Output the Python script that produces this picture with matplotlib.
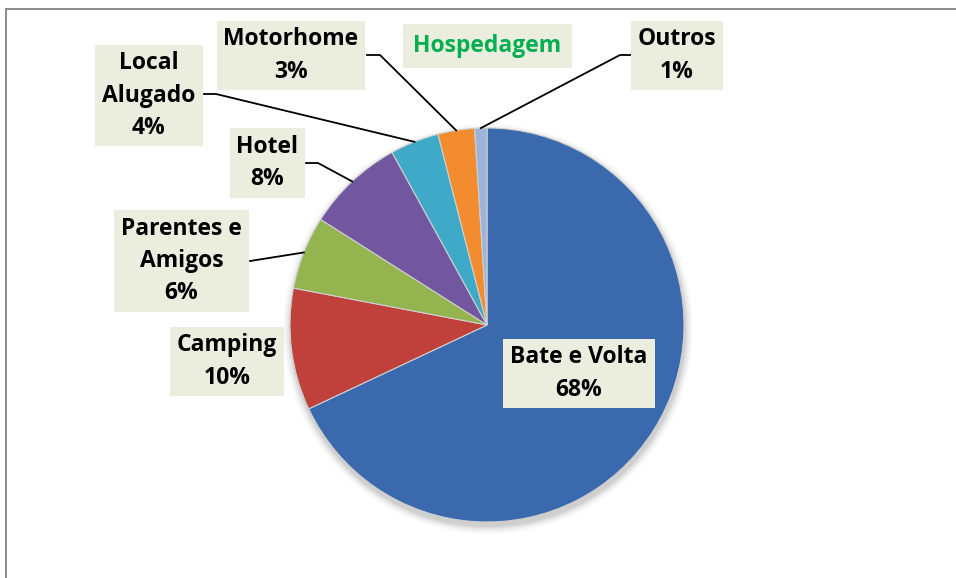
import matplotlib
matplotlib.use('Agg')
import matplotlib.pyplot as plt
import numpy as np
from matplotlib.patches import Rectangle, Circle

# data
categories = ['Bate e Volta', 'Camping', 'Parentes e\nAmigos', 'Hotel',
              'Local\nAlugado', 'Motorhome', 'Outros']
shares = [68, 10, 6, 8, 4, 3, 1]
colors = ['#3A69AE', '#C0403C', '#93B44E', '#7356A0', '#3FAAC8', '#F28C2E', '#9CB4DA']
title = 'Hospedagem'

W, H = 956, 578
fig = plt.figure(figsize=(W / 100, H / 100), dpi=100)
ax = fig.add_axes([0, 0, 1, 1])


def Y(py):
    return H - py


cx, cy, r = 487, Y(325), 197

# soft shadow under the pie
for i, a in enumerate(np.linspace(0.05, 0.012, 6)):
    ax.add_patch(Circle((cx + 1, cy - 4), r + 1 + i * 1.5, color='#000000',
                        alpha=a, lw=0, zorder=1))

wedges, _ = ax.pie(shares, colors=colors, startangle=90, counterclock=False,
                   center=(cx, cy), radius=r, frame=True,
                   wedgeprops=dict(edgecolor='#cfcfcf', linewidth=0.8))
for w in wedges:
    w.set_zorder(2)
ax.set_xlim(0, W)
ax.set_ylim(0, H)
ax.set_aspect('equal')
ax.axis('off')

# chart frame (only top and left edges visible)
ax.add_patch(Rectangle((6, -20), W + 40, Y(9) + 20, fill=False,
                       edgecolor='#8a8a8a', lw=1.4, zorder=0))

font = dict(family=['Open Sans', 'DejaVu Sans'], fontweight='bold', fontsize=16.5)
box = dict(boxstyle='square,pad=0.3', facecolor='#EBEEDE', edgecolor='none')

# label box centers (px) and elbow points for leader lines
label_pos = [(579, 373.5), (227, 361.5), (181.5, 261), (267.5, 163),
             (149, 95.5), (291, 55.5), (677, 55.5)]
elbows = [None, None, [(250, 261)], [(306, 163), (318, 163)],
          [(204, 94), (216, 94)], [(367, 55), (380, 55)], [(631, 55), (620, 55)]]

for w, cat, val, (lx, ly), el in zip(wedges, categories, shares, label_pos, elbows):
    ax.text(lx, Y(ly), f'{cat}\n{val}%', ha='center', va='center',
            linespacing=1.45, bbox=box, zorder=5, **font)
    if el:
        mid = np.deg2rad((w.theta1 + w.theta2) / 2)
        ex, ey = cx + r * np.cos(mid), cy + r * np.sin(mid)
        xs = [p[0] for p in el] + [ex]
        ys = [Y(p[1]) for p in el] + [ey]
        ax.plot(xs, ys, color='black', lw=1.3, zorder=4)

ax.text(487.5, Y(46), title, ha='center', va='center', color='#00B050',
        bbox=dict(box, boxstyle='square,pad=0.45'), zorder=5, **font)

fig.savefig('out.png', dpi=100)
